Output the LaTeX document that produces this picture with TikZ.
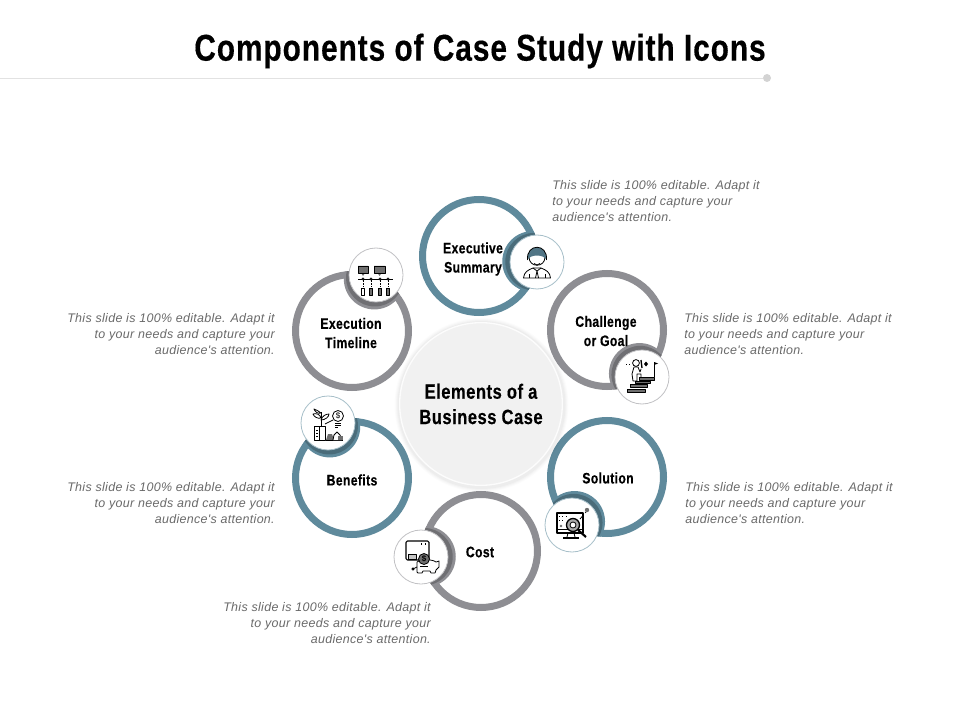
\documentclass[tikz,border=0pt]{standalone}
\usepackage{fontspec}
\usepackage{xcolor}
\usepackage{tikz}
\setmainfont{Liberation Sans}
\newfontfamily\narrowfont{Liberation Sans}[FakeStretch=0.80,LetterSpace=2.5,BoldFeatures={FakeBold=0.35}]
\newfontfamily\slidefont{Liberation Sans}[LetterSpace=2.5]
\usetikzlibrary{calc}
\definecolor{tealring}{HTML}{5F8A9C}
\definecolor{grayring}{HTML}{8E8E93}
\definecolor{textgray}{HTML}{6A6A6A}
\definecolor{rulegray}{HTML}{E2E2E2}
\definecolor{discgray}{HTML}{F1F1F1}
\definecolor{icongray}{HTML}{6E6E6E}
\tikzset{
    ring/.style={circle, draw=#1, line width=5.25pt, fill=white, minimum size=84.75pt, inner sep=0pt},
    bubble/.style={circle, draw=#1!55!white, line width=0.6pt, fill=white, minimum size=40.5pt, inner sep=0pt},
    ringtext/.style={font=\narrowfont\bfseries\fontsize{11.4}{14.4}\selectfont, align=center, text=black, inner sep=0pt},
    slidetext/.style={font=\slidefont\itshape\fontsize{9.35}{12}\selectfont, text=textgray, inner sep=0pt},
    iconline/.style={draw=black, line width=0.6pt, line join=round},
}
% crescent behind a bubble, kept inside its ring
\newcommand{\crescent}[3]{
    \begin{scope}
        \clip (#2) circle (60);
        \fill[#3] ($(#1)!3.2pt!(#2)$) circle (30.5);
        \fill[#3!78!black] ($(#1)!2.2pt!(#2)$) circle (28.8);
    \end{scope}
}
\newcommand{\slidetxt}{This slide is 100\% editable. Adapt it\\to your needs and capture your\\audience's attention.}
\begin{document}
\begin{tikzpicture}[x=0.75pt,y=-0.75pt]
    \useasboundingbox (0,0) rectangle (960,720);
    \fill[white] (0,0) rectangle (960,720);

    % title
    \node[font=\narrowfont\bfseries\fontsize{28}{32}\selectfont, inner sep=0pt] (title) at (480,51) {Components of Case Study with Icons};
    \coordinate (ruleleft) at (0,78);
    \node[circle, fill=rulegray!85!gray, minimum size=6pt, inner sep=0pt] (ruledot) at (767,78) {};
    \draw[rulegray, line width=0.7pt] (ruleleft) -- (ruledot);

    % rings
    \node[ring=tealring] (summary) at (479,256) {};
    \node[ring=grayring] (challenge) at (607,330) {};
    \node[ring=grayring] (timeline) at (352,331) {};
    \node[ring=tealring] (benefits) at (352,478) {};
    \node[ring=tealring] (solution) at (607,477) {};
    \node[ring=grayring] (cost) at (481,551) {};

    % bubbles
    \coordinate (bsummary) at (537,262);
    \coordinate (bchallenge) at (642,377);
    \coordinate (btimeline) at (376,275);
    \coordinate (bbenefits) at (328,423);
    \coordinate (bsolution) at (572,525);
    \coordinate (bcost) at (421,557);
    \crescent{bsummary}{summary}{tealring}
    \crescent{bchallenge}{challenge}{grayring}
    \crescent{btimeline}{timeline}{grayring}
    \crescent{bbenefits}{benefits}{tealring}
    \crescent{bsolution}{solution}{tealring}
    \crescent{bcost}{cost}{grayring}
    \node[bubble=tealring] (isummary) at (bsummary) {};
    \node[bubble=grayring] (ichallenge) at (bchallenge) {};
    \node[bubble=grayring] (itimeline) at (btimeline) {};
    \node[bubble=tealring] (ibenefits) at (bbenefits) {};
    \node[bubble=tealring] (isolution) at (bsolution) {};
    \node[bubble=grayring] (icost) at (bcost) {};

    % middle disc
    \foreach \r/\o in {87/0.012, 86/0.015, 85/0.02, 84/0.025}
        \fill[black, opacity=\o] (481.5,405) circle (\r);
    \node[circle, fill=discgray, draw=white!98!gray, line width=1pt, minimum size=122pt, inner sep=0pt,
        font=\narrowfont\bfseries\fontsize{15.5}{19}\selectfont, align=center] (middle) at (481,404) {Elements of a\\Business Case};

    % ring labels
    \node[ringtext] (lsummary) at (473,259) {Executive\\Summary};
    \node[ringtext] (lchallenge) at (606,331) {Challenge\\or Goal};
    \node[ringtext] (ltimeline) at (351,333) {Execution\\Timeline};
    \node[ringtext] (lbenefits) at (352,480) {Benefits};
    \node[ringtext] (lsolution) at (608,478) {Solution};
    \node[ringtext] (lcost) at (480,552) {Cost};

    % side texts
    \node[slidetext, align=left, anchor=west] (tsummary) at (552,201) {\slidetxt};
    \node[slidetext, align=left, anchor=west] (tchallenge) at (684,334) {\slidetxt};
    \node[slidetext, align=left, anchor=west] (tsolution) at (685,503) {\slidetxt};
    \node[slidetext, align=right, anchor=east] (tcost) at (431,623) {\slidetxt};
    \node[slidetext, align=right, anchor=east] (tbenefits) at (275,503) {\slidetxt};
    \node[slidetext, align=right, anchor=east] (ttimeline) at (275,334) {\slidetxt};

    % person icon
    \begin{scope}[shift={(isummary.center)}, iconline]
        \draw (-13.5,16) .. controls (-13,10) and (-9,8) .. (-4,6) -- (4,6) .. controls (9,8) and (13,10) .. (13.5,16) -- cycle;
        \draw (-8,-5) .. controls (-8,6) and (8,6) .. (8,-5);
        \fill[tealring!85!black] (-9.5,-2) .. controls (-11,-19) and (11,-19) .. (9.5,-2) .. controls (7,-8) and (-7,-8) .. cycle;
        \draw (-9.5,-2) .. controls (-11,-19) and (11,-19) .. (9.5,-2);
        \draw (-3,1.5) .. controls (-1,3.5) and (1,3.5) .. (3,1.5);
        \draw (-4,6) -- (0,9) -- (4,6) (0,9) -- (-1.5,16) (0,9) -- (1.5,16);
        \draw (-8,16) -- (-8,12) (8,16) -- (8,12);
    \end{scope}

    % stairs icon
    \begin{scope}[shift={(ichallenge.center)}, iconline]
        \fill[icongray] (-15,12) rectangle (3,15) (-12,7.5) rectangle (5,10.5) (-7,4) rectangle (8,6.5) (-3,0.5) rectangle (12,3);
        \draw (-15,12) rectangle (3,15) (-12,7.5) rectangle (5,10.5) (-7,4) rectangle (8,6.5) (-3,0.5) rectangle (12,3);
        \draw (-6,-14) circle (3.4);
        \draw (-8,-10) -- (-10,-3) -- (-9,4) -- (-5,4) -- (-5,-3) -- (-1,-3) -- (-1,0);
        \draw (-4,-10) -- (-2,-5) -- (-1,-8) (-4,-10) -- (-8,-10);
        \draw[line width=1pt] (-1,-17) -- (0,-9);
        \draw[dotted] (-16,-13) -- (-11,-13);
        \fill[black] (4,-15.5) -- (6,-13) -- (4,-10.5) -- (2,-13) -- cycle;
        \draw (12,0) -- (12,-15);
        \fill[black] (12,-15) -- (16,-13.5) -- (12,-12) -- cycle;
    \end{scope}

    % timeline icon
    \begin{scope}[shift={(itimeline.center)}, iconline]
        \fill[icongray] (-18,-9) rectangle (-8,-2) (-13,1) -- (-15,-2) -- (-11,-2) -- cycle;
        \fill[icongray] (-2,-9) rectangle (9,-2) (3.5,1) -- (1.5,-2) -- (5.5,-2) -- cycle;
        \draw (-18,-9) rectangle (-8,-2) (-2,-9) rectangle (9,-2);
        \draw (-18,4) -- (17,4);
        \foreach \x/\f in {-13/white, -5/icongray, 4/icongray, 12/icongray}{
            \draw[fill=white] (\x,4) circle (1.1);
            \draw[line width=0.5pt, dash pattern=on 1.2pt off 1.2pt] (\x,5) -- (\x,12);
            \draw[fill=\f] (\x-1.6,13) rectangle (\x+1.6,20);
        }
    \end{scope}

    % plant icon
    \begin{scope}[shift={(ibenefits.center)}, iconline]
        \draw (-14,3) rectangle (-3,17) (-8.5,3) -- (-8.5,17);
        \foreach \y in {7,10,13} \draw (-12,\y) -- (-10.5,\y);
        \draw (-7,3) -- (-7,-11);
        \draw (-7,-5) .. controls (-10,-4) and (-14,-6) .. (-15,-9) .. controls (-12,-10) and (-8,-9) .. cycle;
        \draw (-7,-10) .. controls (-9,-12) and (-12,-13) .. (-14,-14) .. controls (-13,-11) and (-10,-9) .. cycle;
        \draw (-7,-3) .. controls (-6,-7) and (-2,-9) .. (1,-9) .. controls (1,-6) and (-3,-3) .. cycle;
        \draw (-3,1) -- (5,-3);
        \draw (10,-7) circle (5.5);
        \node[font=\fontsize{6}{6}\selectfont, inner sep=0pt] (dollarb) at (10,-7) {\$};
        \draw[line width=0.4pt] (7,0.5) -- (13,0.5) (7,2.5) -- (13,2.5) (7,4.5) -- (10,4.5);
        \fill[icongray] (-2,17) -- (0,11) -- (4,11) -- (6,17) -- cycle;
        \draw (-2,17) -- (15,17);
        \draw[fill=white] (5,17) -- (6,12) -- (9,9) -- (12,12) -- (14,17);
        \fill[icongray] (10,13) rectangle (15,17);
    \end{scope}

    % monitor icon
    \begin{scope}[shift={(isolution.center)}, iconline]
        \draw[line width=0.8pt] (-15,-12) rectangle (11,8);
        \draw (-15,4.5) -- (11,4.5);
        \draw (-4,8) -- (-5,12) (2,8) -- (3,12);
        \draw[line width=0.9pt] (-9,13) -- (7,13);
        \draw[dotted] (-13,-9) -- (-6,-9) (-13,-5) -- (-8,-5);
        \fill[icongray] (-11,1) circle (1.4);
        \draw[fill=icongray!60!white, line width=1pt] (1,0) circle (6.5);
        \draw[fill=white] (1,0) circle (3);
        \draw[line width=1.6pt] (6,5) -- (14,12);
        \draw[dashed] (8,-6) -- (14,-13);
        \fill[icongray] (15,-15) circle (2.2);
    \end{scope}

    % piggy icon
    \begin{scope}[shift={(icost.center)}, iconline]
        \draw[line width=0.8pt, rounded corners=1pt] (-15,-16) rectangle (8,3);
        \draw[dotted, line width=1pt] (0,-13) -- (6,-13);
        \draw[fill=icongray!40!white] (-13,-3) rectangle (-5,2);
        \draw[fill=white] (-4,15) -- (-4,5) .. controls (0,2) and (11,2) .. (15,5) -- (18,4) -- (18,10) -- (15,13) -- (14,16) -- (10,16) -- (9,14) -- (2,14) -- (1,16) -- (-3,16) -- cycle;
        \draw (-4,10) -- (-8,12) (-8,12) circle (1.2);
        \draw[fill=icongray] (3,2) circle (5.5);
        \node[font=\bfseries\fontsize{6}{6}\selectfont, inner sep=0pt] (dollarc) at (3,2) {\$};
        \draw (-1,9) -- (7,9);
    \end{scope}
\end{tikzpicture}
\end{document}
